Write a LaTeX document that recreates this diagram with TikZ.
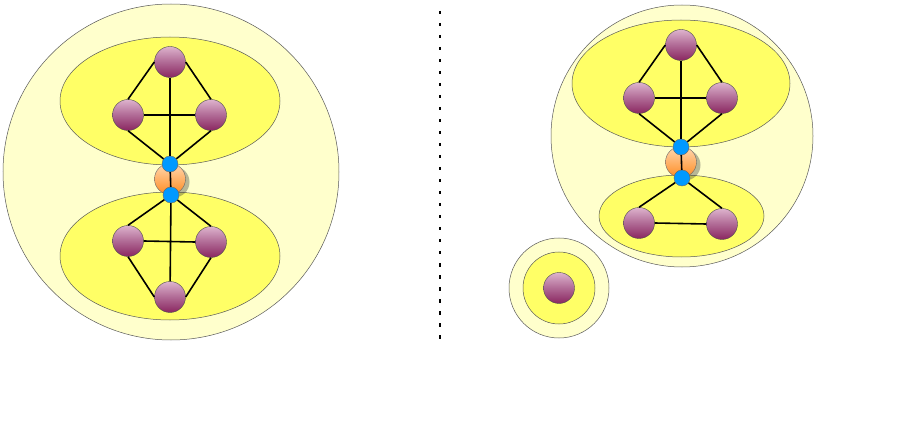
\documentclass[tikz,border=0pt]{standalone}
\usepackage{tikz}
\usetikzlibrary{shadows}

\definecolor{paleyel}{HTML}{FFFFCC}
\definecolor{yel}{HTML}{FFFF66}
\definecolor{vtop}{HTML}{DDB3CD}
\definecolor{vmid}{HTML}{B06A95}
\definecolor{vbot}{HTML}{8A2660}
\definecolor{htop}{HTML}{FFD8B0}
\definecolor{hbot}{HTML}{FF8C22}
\definecolor{cutblue}{HTML}{0099FF}

\begin{document}
\begin{tikzpicture}[x=1pt,y=-1pt,
    zone/.style={draw=black!65,line width=0.5pt},
    vert/.style={circle,draw=black!70,line width=0.4pt,inner sep=0pt,
        minimum size=31pt,top color=vtop,bottom color=vbot,middle color=vmid},
    hub/.style={circle,draw=black!60,line width=0.4pt,inner sep=0pt,
        minimum size=31pt,top color=htop,bottom color=hbot,
        drop shadow={shadow xshift=4pt,shadow yshift=-3pt,opacity=0.35,fill=black!80}},
    cut/.style={circle,fill=cutblue,draw=black!60,line width=0.4pt,
        inner sep=0pt,minimum size=16pt},
    link/.style={line width=1.6pt}]
    \useasboundingbox (0,0) rectangle (914,441);

    % linker Graph: Huelle und Bloecke
    \draw[zone,fill=paleyel] (171,172) circle [radius=168];
    \draw[zone,fill=yel] (170,101) ellipse [x radius=110,y radius=64];
    \draw[zone,fill=yel] (170,256) ellipse [x radius=110,y radius=64];

    % linker Graph: Knoten
    \node[hub] (lh) at (170,179) {};
    \node[vert] (lt) at (170,62) {};
    \node[vert] (ll) at (128,115) {};
    \node[vert] (lr) at (211,115) {};
    \node[cut] (lc1) at (170,164) {};
    \node[cut] (lc2) at (171,195) {};
    \node[vert] (lbl) at (128,241) {};
    \node[vert] (lbr) at (211,242) {};
    \node[vert] (lbb) at (170,297) {};

    % linker Graph: Kanten
    \draw[link] (lt.west) -- (ll.north);
    \draw[link] (lt.east) -- (lr.north);
    \draw[link] (lt) -- (lc1);
    \draw[link] (ll.east) -- (lr.west);
    \draw[link] (ll.south) -- (lc1);
    \draw[link] (lr.south) -- (lc1);
    \draw[link] (lc1) -- (lc2);
    \draw[link] (lc2) -- (lbl.north);
    \draw[link] (lc2) -- (lbr.north);
    \draw[link] (lc2) -- (lbb);
    \draw[link] (lbl.east) -- (lbr.west);
    \draw[link] (lbl.south) -- (lbb.west);
    \draw[link] (lbr.south) -- (lbb.east);

    % Trennlinie
    \coordinate (s1) at (440,11);
    \coordinate (s2) at (440,339);
    \draw[line width=1.8pt,dash pattern=on 3.5pt off 8.5pt] (s1) -- (s2);

    % rechter Graph: Huelle und Bloecke
    \draw[zone,fill=paleyel] (682,136) circle [radius=131];
    \draw[zone,fill=yel] (681,83.5) ellipse [x radius=109,y radius=63.5];
    \draw[zone,fill=yel] (681.5,216) ellipse [x radius=82.5,y radius=41];

    % rechter Graph: Knoten
    \node[hub] (rh) at (681,162) {};
    \node[vert] (rt) at (681,45) {};
    \node[vert] (rl) at (639,98) {};
    \node[vert] (rr) at (722,98) {};
    \node[cut] (rc1) at (681,147) {};
    \node[cut] (rc2) at (682,178) {};
    \node[vert] (rbl) at (639,223) {};
    \node[vert] (rbr) at (722,224) {};

    % rechter Graph: Kanten
    \draw[link] (rt.west) -- (rl.north);
    \draw[link] (rt.east) -- (rr.north);
    \draw[link] (rt) -- (rc1);
    \draw[link] (rl.east) -- (rr.west);
    \draw[link] (rl.south) -- (rc1);
    \draw[link] (rr.south) -- (rc1);
    \draw[link] (rc1) -- (rc2);
    \draw[link] (rc2) -- (rbl.north);
    \draw[link] (rc2) -- (rbr.north);
    \draw[link] (rbl.east) -- (rbr.west);

    % isolierter Knoten
    \draw[zone,fill=paleyel] (559,288) circle [radius=50];
    \draw[zone,fill=yel] (559,288) circle [radius=36];
    \node[vert] (iso) at (559,288) {};
\end{tikzpicture}
\end{document}
